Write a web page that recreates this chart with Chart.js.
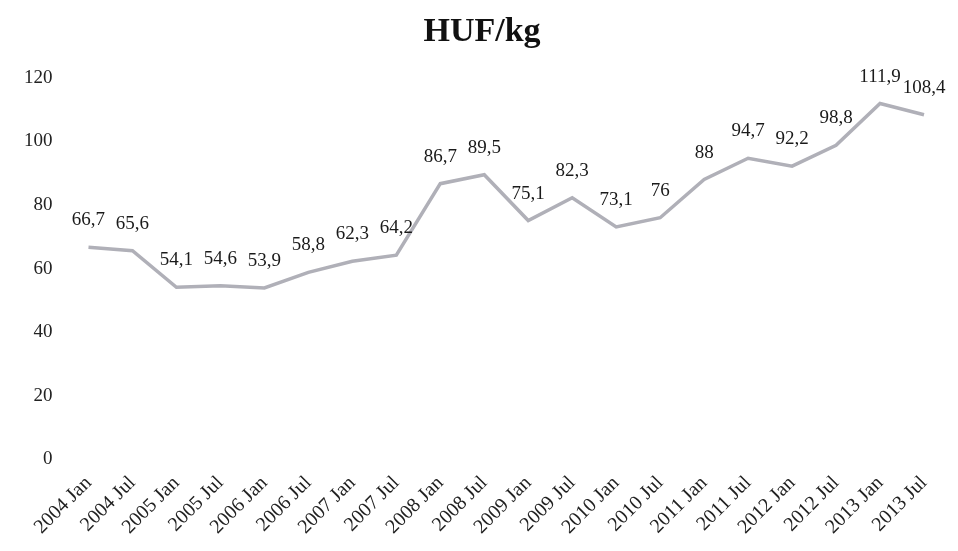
<!DOCTYPE html>
<html>
<head>
<meta charset="utf-8">
<script src="https://cdn.jsdelivr.net/npm/chart.js@4/dist/chart.umd.min.js"></script>
<style>
  html, body { margin: 0; padding: 0; background: #ffffff; }
  #wrap { width: 958px; height: 551px; }
</style>
</head>
<body>
<div id="wrap"><canvas id="c" width="958" height="551"></canvas></div>
<script>
const categories = ["2004 Jan","2004 Jul","2005 Jan","2005 Jul","2006 Jan","2006 Jul","2007 Jan","2007 Jul","2008 Jan","2008 Jul","2009 Jan","2009 Jul","2010 Jan","2010 Jul","2011 Jan","2011 Jul","2012 Jan","2012 Jul","2013 Jan","2013 Jul"];
const prices = [66.7,65.6,54.1,54.6,53.9,58.8,62.3,64.2,86.7,89.5,75.1,82.3,73.1,76,88,94.7,92.2,98.8,111.9,108.4];
const yTicks = [0,20,40,60,80,100,120];
const titleText = "HUF/kg";

const SERIF = "'Liberation Serif', 'Times New Roman', serif";

const valueLabels = {
  id: 'valueLabels',
  afterDatasetsDraw(chart) {
    const ctx = chart.ctx;
    const meta = chart.getDatasetMeta(0);
    const data = chart.data.datasets[0].data;
    ctx.save();
    ctx.font = "19px " + SERIF;
    ctx.fillStyle = '#1a1a1a';
    ctx.textAlign = 'center';
    ctx.textBaseline = 'middle';
    meta.data.forEach((pt, i) => {
      const txt = String(data[i]).replace('.', ',');
      ctx.fillText(txt, pt.x, pt.y - 27);
    });
    ctx.restore();
  }
};

new Chart(document.getElementById('c'), {
  type: 'line',
  data: {
    labels: categories,
    datasets: [{
      data: prices,
      borderColor: '#b0b0b8',
      borderWidth: 3.5,
      pointRadius: 0,
      tension: 0,
      fill: false
    }]
  },
  options: {
    responsive: false,
    animation: false,
    devicePixelRatio: 1,
    layout: { padding: { left: 18, right: 12, top: 4, bottom: 8 } },
    plugins: {
      legend: { display: false },
      tooltip: { enabled: false },
      title: {
        display: true,
        text: titleText,
        color: '#111',
        font: { family: SERIF, size: 34, weight: 'bold' },
        padding: { top: 8, bottom: 25 }
      }
    },
    scales: {
      x: {
        offset: true,
        grid: { display: false },
        border: { display: false },
        ticks: {
          color: '#222',
          font: { family: SERIF, size: 20 },
          minRotation: 45,
          maxRotation: 45,
          autoSkip: false,
          padding: 4
        }
      },
      y: {
        min: 0,
        max: 120,
        grid: { display: false },
        border: { display: false },
        afterBuildTicks(axis) { axis.ticks = yTicks.map(v => ({ value: v })); },
        ticks: {
          color: '#222',
          font: { family: SERIF, size: 19 },
          padding: 6
        }
      }
    }
  },
  plugins: [valueLabels]
});
</script>
</body>
</html>
